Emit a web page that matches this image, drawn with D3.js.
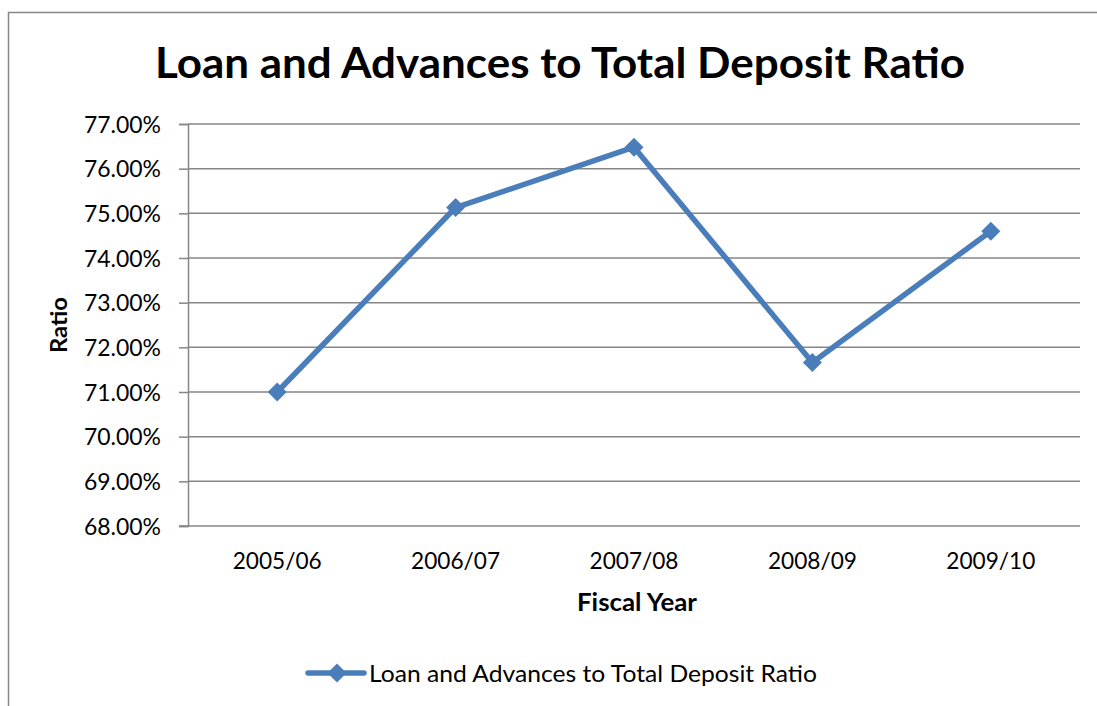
<!DOCTYPE html>
<html><head><meta charset="utf-8">
<script src="https://cdn.jsdelivr.net/npm/d3@7"></script>
<style>html,body{margin:0;padding:0;background:#fff;}svg{display:block;}</style>
</head><body>
<script>
const categories = ["2005/06","2006/07","2007/08","2008/09","2009/10"];
const values = [71.00, 75.13, 76.48, 71.66, 74.60];
const yTicks = [68,69,70,71,72,73,74,75,76,77];
const seriesName = "Loan and Advances to Total Deposit Ratio";
const chartTitle = "Loan and Advances to Total Deposit Ratio";
const xTitle = "Fiscal Year";
const yTitle = "Ratio";

const W = 1097, H = 706;
const FONT = "Lato, 'Open Sans', sans-serif";
const svg = d3.select("body").append("svg").attr("width", W).attr("height", H);

svg.append("rect").attr("x",8.5).attr("y",12.5).attr("width",1200).attr("height",800)
  .attr("fill","#fff").attr("stroke","#868686").attr("stroke-width",1.5);

const m = {left:188, right:1080, top:124, bottom:526};
const x = d3.scaleBand().domain(categories).range([m.left, m.right]);
const y = d3.scaleLinear().domain([68,77]).range([m.bottom, m.top]);

// gridlines
svg.append("g").selectAll("line").data(yTicks.filter(t=>t>68)).join("line")
  .attr("x1", m.left).attr("x2", m.right)
  .attr("y1", d=>y(d)).attr("y2", d=>y(d))
  .attr("stroke","#868686").attr("stroke-width",1.5);

// y axis
const yAxis = d3.axisLeft(y).tickValues(yTicks).tickSize(9).tickPadding(18)
  .tickFormat(d => d.toFixed(2) + "%");
const gy = svg.append("g").attr("transform",`translate(${m.left},0)`).call(yAxis);
gy.select(".domain").attr("stroke","#868686").attr("stroke-width",1.5);
gy.selectAll(".tick line").attr("stroke","#868686").attr("stroke-width",1.5);
gy.selectAll(".tick text").attr("font-family",FONT).attr("font-size",23).attr("fill","#000")
  .attr("dy","0.36em").attr("textLength",77).attr("lengthAdjust","spacingAndGlyphs");

// x axis
const xAxis = d3.axisBottom(x).tickSize(0).tickPadding(26);
const gx = svg.append("g").attr("transform",`translate(0,${m.bottom})`).call(xAxis);
gx.select(".domain").attr("stroke","#868686").attr("stroke-width",1.5)
  .attr("d", `M${m.left-9},0H${m.right}`);
gx.selectAll(".tick text").attr("font-family",FONT).attr("font-size",24).attr("fill","#000")
  .attr("textLength",89).attr("lengthAdjust","spacingAndGlyphs");

// line
const color = "#4a7ebb";
const line = d3.line().x((d,i)=>x(categories[i])+x.bandwidth()/2).y(d=>y(d));
svg.append("path").datum(values).attr("d",line).attr("fill","none")
  .attr("stroke",color).attr("stroke-width",5.5).attr("stroke-linejoin","round");
const diamond = d3.symbol().type(d3.symbolDiamond2).size(230);
svg.append("g").selectAll("path").data(values).join("path")
  .attr("transform",(d,i)=>`translate(${x(categories[i])+x.bandwidth()/2},${y(d)})`)
  .attr("d",diamond).attr("fill",color);

// titles
svg.append("text").attr("x",560).attr("y",78).attr("text-anchor","middle")
  .attr("font-family",FONT).attr("font-weight","bold").attr("font-size",42)
  .attr("textLength",810).attr("lengthAdjust","spacingAndGlyphs").text(chartTitle);
svg.append("text").attr("x",637).attr("y",611).attr("text-anchor","middle")
  .attr("font-family",FONT).attr("font-weight","bold").attr("font-size",24)
  .attr("textLength",120).attr("lengthAdjust","spacingAndGlyphs").text(xTitle);
svg.append("text").attr("transform","translate(67,325) rotate(-90)").attr("text-anchor","middle")
  .attr("font-family",FONT).attr("font-weight","bold").attr("font-size",22)
  .attr("textLength",56).attr("lengthAdjust","spacingAndGlyphs").text(yTitle);

// legend
const lg = svg.append("g");
lg.append("line").attr("x1",308).attr("x2",364).attr("y1",673).attr("y2",673)
  .attr("stroke",color).attr("stroke-width",5.5).attr("stroke-linecap","round");
lg.append("path").attr("transform","translate(337,673)").attr("d",diamond).attr("fill",color);
lg.append("text").attr("x",369).attr("y",682).attr("font-family",FONT).attr("font-size",23)
  .attr("textLength",448).attr("lengthAdjust","spacingAndGlyphs").text(seriesName);
</script>
</body></html>
